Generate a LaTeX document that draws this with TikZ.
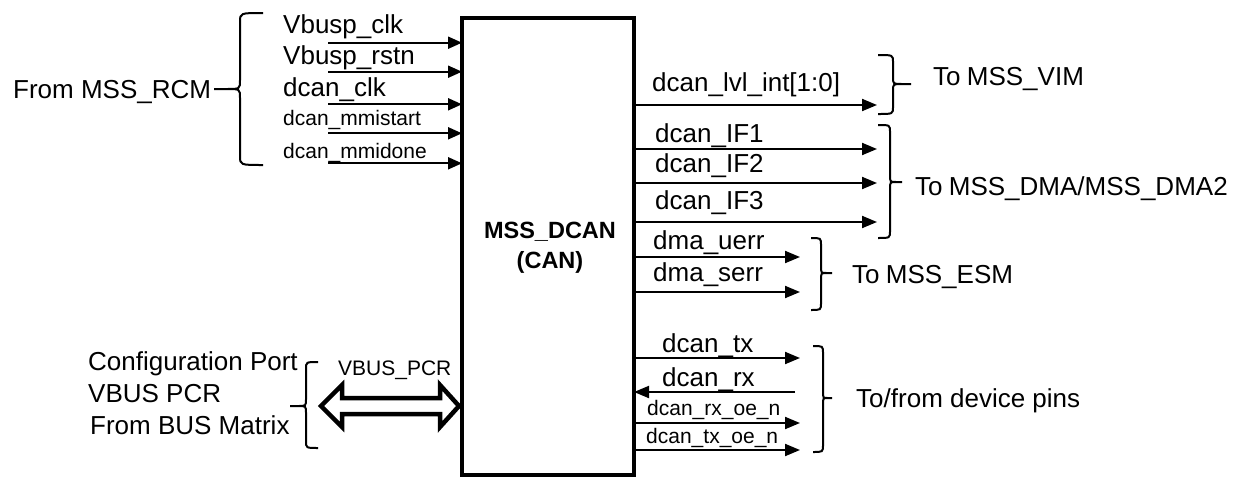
\documentclass[tikz,border=0pt]{standalone}
\usepackage{fontspec}
\setmainfont{Liberation Sans}
\usetikzlibrary{arrows.meta,calc}
\newcommand{\bracepath}[7]{%
  \draw[brc] (#1,#4) .. controls (#2,#4) .. (#2,{#4+#7}) -- (#2,{#5-#7})
    .. controls (#2,#5) .. ({(#2+#3)/2},#5) -- (#3,#5) -- ({(#2+#3)/2},#5)
    .. controls (#2,#5) .. (#2,{#5+#7}) -- (#2,{#6-#7})
    .. controls (#2,#6) .. (#1,#6);}
\begin{document}
\begin{tikzpicture}[x=1pt,y=-1pt,
  lbl/.style={font=\fontsize{26}{30}\selectfont, inner sep=0pt, anchor=base west},
  slbl/.style={font=\fontsize{21}{25}\selectfont, inner sep=0pt, anchor=base west},
  insig/.style={line width=2pt, -{Triangle[length=14pt,width=12pt]}},
  outsig/.style={line width=2pt, -{Triangle[length=15pt,width=12pt]}},
  brc/.style={line width=2pt},
  blk/.style={draw, line width=4pt, inner sep=0pt, outer sep=0pt, fill=white}
]
\useasboundingbox (0,0) rectangle (1242,477);
\fill[white] (0,0) rectangle (1242,477);

% main block
\node[blk, minimum width=172pt, minimum height=457.5pt] (box) at (548,246.25) {};
\node[font=\fontsize{23.5}{30}\selectfont\bfseries, align=center, inner sep=0pt] (title) at (550,248) {MSS\_DCAN\\(CAN)};

% inputs from MSS_RCM
\coordinate (i1) at (328,42.7);
\coordinate (i2) at (328,71.7);
\coordinate (i3) at (328,104.3);
\coordinate (i4) at (328,133.3);
\coordinate (i5) at (328,163.3);
\foreach \n in {1,...,5} \draw[insig] (i\n) -- (i\n -| box.west);
\node[lbl] (l1) at (283,33) {Vbusp\_clk};
\node[lbl] (l2) at (283,64) {Vbusp\_rstn};
\node[lbl] (l3) at (283,96) {dcan\_clk};
\node[slbl] (l4) at (283,125) {dcan\_mmistart};
\node[slbl] (l5) at (283,158) {dcan\_mmidone};
\bracepath{263}{240}{214}{13}{89}{165}{9}
\node[lbl] (rcm) at (13,98) {From MSS\_RCM};

% outputs to MSS_VIM and MSS_DMA
\coordinate (o1) at (877,105);
\coordinate (o2) at (877,149);
\coordinate (o3) at (877,183);
\coordinate (o4) at (877,222);
\foreach \n in {1,...,4} \draw[outsig] (o\n -| box.east) -- (o\n);
\node[lbl] (lo1) at (652,91) {dcan\_lvl\_int[1:0]};
\node[lbl] (lo2) at (655,142) {dcan\_IF1};
\node[lbl] (lo3) at (655,172) {dcan\_IF2};
\node[lbl] (lo4) at (655,209) {dcan\_IF3};
\bracepath{878}{893}{911}{55}{84}{114}{7}
\node[lbl] (vim) at (933,85) {To\kern-1pt\ MSS\_VIM};
\bracepath{878}{890}{902}{125}{182}{238}{7}
\node[lbl] (dma) at (915,195) {To\kern-1pt\ MSS\_DMA/MSS\_DMA2};

% outputs to MSS_ESM
\coordinate (e1) at (800,257);
\coordinate (e2) at (800,292);
\foreach \n in {1,2} \draw[outsig] (e\n -| box.east) -- (e\n);
\node[lbl] (le1) at (653,249) {dma\_uerr};
\node[lbl] (le2) at (653,281) {dma\_serr};
\bracepath{811}{821}{832}{238}{273}{310}{7}
\node[lbl] (esm) at (852,283) {To\kern-1pt\ MSS\_ESM};

% device pins
\coordinate (p1) at (800,358);
\coordinate (p2) at (795,392);
\coordinate (p3) at (800,423);
\coordinate (p4) at (800,450);
\draw[outsig] (p1 -| box.east) -- (p1);
\draw[outsig] (p2) -- (p2 -| box.east);
\draw[outsig] (p3 -| box.east) -- (p3);
\draw[outsig] (p4 -| box.east) -- (p4);
\node[lbl] (lp1) at (662,352) {dcan\_tx};
\node[lbl] (lp2) at (662,386) {dcan\_rx};
\node[slbl] (lp3) at (647,415) {dcan\_rx\_oe\_n};
\node[slbl] (lp4) at (646,443) {dcan\_tx\_oe\_n};
\bracepath{813}{823}{832}{346}{398}{452}{7}
\node[lbl] (pins) at (856,407) {To/from device pins};

% configuration port
\node[lbl] (c1) at (88,370) {Configuration Port};
\node[lbl] (c2) at (88,402) {VBUS PCR};
\node[lbl] (c3) at (90,434) {From BUS Matrix};
\bracepath{318}{306}{290}{362}{406}{448}{7}
\node[slbl] (vbl) at (338,375) {VBUS\_PCR};
\coordinate (pl) at (321,406);
\coordinate (pr) at ([xshift=-3pt]box.west |- pl);
\draw[line width=4.5pt, line join=miter, fill=white]
  (pl) -- ($(pl)+(21,-21)$) -- ($(pl)+(21,-8)$) -- ($(pr)+(-19,-8)$)
  -- ($(pr)+(-19,-21)$) -- (pr) -- ($(pr)+(-19,21)$) -- ($(pr)+(-19,8)$)
  -- ($(pl)+(21,8)$) -- ($(pl)+(21,21)$) -- cycle;
\end{tikzpicture}
\end{document}
